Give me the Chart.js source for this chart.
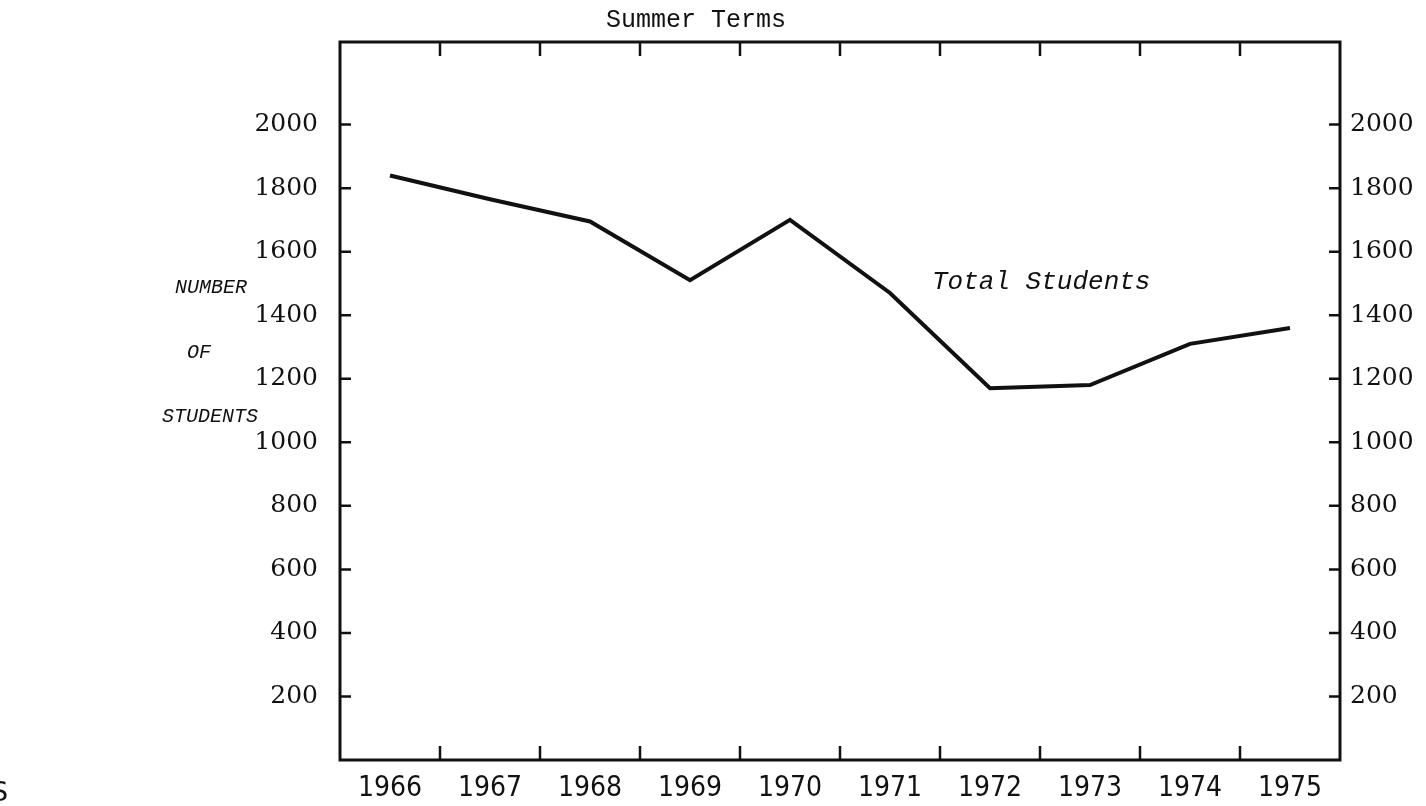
<!DOCTYPE html>
<html>
<head>
<meta charset="utf-8">
<script src="https://cdn.jsdelivr.net/npm/chart.js@4"></script>
<style>
  body { margin: 0; background: #fff; }
  #wrap { position: relative; width: 1426px; height: 806px; overflow: hidden; }
  .lbl { position: absolute; color: #111; white-space: nowrap; }
  .mono { font-family: 'Liberation Mono', 'DejaVu Sans Mono', monospace; }
  .it { font-style: italic; }
</style>
</head>
<body>
<div id="wrap">
  <canvas id="summerChart" width="1426" height="806"></canvas>
  <div class="lbl mono" style="left:606px; top:6px; font-size:25px;">Summer Terms</div>
  <div class="lbl mono it" style="left:175px; top:276px; font-size:20px;">NUMBER</div>
  <div class="lbl mono it" style="left:187px; top:341px; font-size:20px;">OF</div>
  <div class="lbl mono it" style="left:162px; top:405px; font-size:20px;">STUDENTS</div>
  <div class="lbl mono it" style="left:932px; top:267px; font-size:26px;">Total Students</div>
  <div class="lbl" style="left:-9px; top:776px; font-family:'DejaVu Sans', sans-serif; font-size:27px;">S</div>
</div>
<script>
// summer term enrolment
const years = ['1966', '1967', '1968', '1969', '1970', '1971', '1972', '1973', '1974', '1975'];
const totalStudents = [1840, 1765, 1695, 1510, 1700, 1470, 1170, 1180, 1310, 1360];
const yTicks = [200, 400, 600, 800, 1000, 1200, 1400, 1600, 1800, 2000];

const ink = '#111';

// frame + inward tick marks, the way the typed chart has them
const frameTicks = {
  id: 'frameTicks',
  afterDraw(chart) {
    const { ctx, chartArea: a, scales } = chart;
    ctx.save();
    ctx.strokeStyle = ink;
    ctx.lineWidth = 3;
    ctx.strokeRect(a.left, a.top, a.right - a.left, a.bottom - a.top);
    ctx.lineWidth = 2.5;
    ctx.beginPath();
    scales.y.ticks.forEach(t => {
      const py = scales.y.getPixelForValue(t.value);
      ctx.moveTo(a.left, py); ctx.lineTo(a.left + 11, py);
    });
    scales.y2.ticks.forEach(t => {
      const py = scales.y2.getPixelForValue(t.value);
      ctx.moveTo(a.right, py); ctx.lineTo(a.right - 11, py);
    });
    for (let i = 1; i < years.length; i++) {
      const px = (scales.x.getPixelForValue(i - 1) + scales.x.getPixelForValue(i)) / 2;
      ctx.moveTo(px, a.bottom); ctx.lineTo(px, a.bottom - 14);
      ctx.moveTo(px, a.top); ctx.lineTo(px, a.top + 14);
    }
    ctx.stroke();
    ctx.restore();
  }
};

const yTickFont = { family: "'DejaVu Serif', serif", size: 25 };
const plain = v => String(v);

new Chart(document.getElementById('summerChart').getContext('2d'), {
  type: 'line',
  data: {
    labels: years,
    datasets: [{
      label: 'Total Students',
      data: totalStudents,
      borderColor: ink,
      borderWidth: 4,
      pointRadius: 0,
      tension: 0,
      fill: false
    }]
  },
  options: {
    responsive: false,
    animation: false,
    layout: { padding: { top: 42, bottom: 0 } },
    plugins: {
      legend: { display: false },
      tooltip: { enabled: false }
    },
    scales: {
      x: {
        type: 'category',
        offset: true,
        grid: { display: false },
        border: { display: false },
        ticks: {
          color: ink,
          maxRotation: 0,
          padding: 4,
          font: { family: "'DejaVu Sans Condensed', 'DejaVu Sans', sans-serif", size: 28 }
        },
        afterFit(s) { s.height = 46; }
      },
      y: {
        position: 'left',
        min: 0,
        max: 2260,
        grid: { display: false },
        border: { display: false },
        afterBuildTicks(s) { s.ticks = yTicks.map(v => ({ value: v })); },
        ticks: { color: ink, padding: 14, font: yTickFont, callback: plain },
        afterFit(s) { s.width = 340; }
      },
      y2: {
        display: true,
        position: 'right',
        min: 0,
        max: 2260,
        grid: { display: false },
        border: { display: false },
        afterBuildTicks(s) { s.ticks = yTicks.map(v => ({ value: v })); },
        ticks: { color: ink, padding: 2, font: yTickFont, callback: plain },
        afterFit(s) { s.width = 86; }
      }
    }
  },
  plugins: [frameTicks]
});
</script>
</body>
</html>
